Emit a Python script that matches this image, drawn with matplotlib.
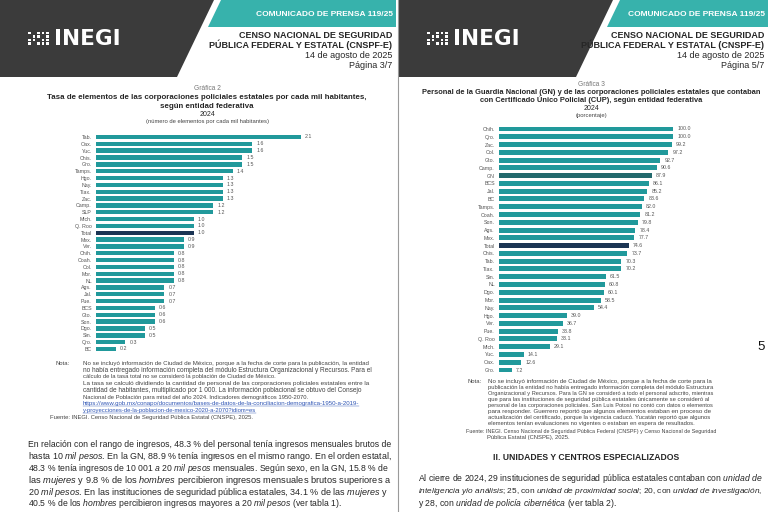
import matplotlib
matplotlib.use("Agg")
import matplotlib.pyplot as plt
from matplotlib.patches import Polygon, Rectangle

plt.rcParams['font.family'] = ['Liberation Sans', 'DejaVu Sans']
plt.rcParams['mathtext.fontset'] = 'custom'
plt.rcParams['mathtext.rm'] = 'Liberation Sans'
plt.rcParams['mathtext.it'] = 'Liberation Sans:italic'
plt.rcParams['mathtext.bf'] = 'Liberation Sans:bold'

# ---- data: Gráfica 2 (tasa por cada mil habitantes)
ent2 = ['Tab.', 'Oax.', 'Yuc.', 'Chis.', 'Gro.', 'Tamps.', 'Hgo.', 'Nay.', 'Tlax.', 'Zac.',
        'Camp.', 'SLP', 'Mich.', 'Q. Roo', 'Total', 'Mex.', 'Ver.', 'Chih.', 'Coah.', 'Col.',
        'Mor.', 'NL', 'Ags.', 'Jal.', 'Pue.', 'BCS', 'Gto.', 'Son.', 'Dgo.', 'Sin.', 'Qro.', 'BC']
tasa2 = [2.1, 1.6, 1.6, 1.5, 1.5, 1.4, 1.3, 1.3, 1.3, 1.3,
         1.2, 1.2, 1.0, 1.0, 1.0, 0.9, 0.9, 0.8, 0.8, 0.8,
         0.8, 0.8, 0.7, 0.7, 0.7, 0.6, 0.6, 0.6, 0.5, 0.5, 0.3, 0.2]

# ---- data: Gráfica 3 (porcentaje con CUP)
ent3 = ['Chih.', 'Qro.', 'Zac.', 'Col.', 'Gto.', 'Camp.', 'GN', 'BCS', 'Jal.', 'BC',
        'Tamps.', 'Coah.', 'Son.', 'Ags.', 'Mex.', 'Total', 'Chis.', 'Tab.', 'Tlax.', 'Sin.',
        'NL', 'Dgo.', 'Mor.', 'Nay.', 'Hgo.', 'Ver.', 'Pue.', 'Q. Roo', 'Mich.', 'Yuc.', 'Oax.', 'Gro.']
pct3 = [100.0, 100.0, 99.2, 97.2, 92.7, 90.6, 87.9, 86.1, 85.2, 83.6,
        82.0, 81.2, 79.8, 78.4, 77.7, 74.6, 73.7, 70.3, 70.2, 61.5,
        60.8, 60.1, 58.5, 54.4, 39.0, 36.7, 33.8, 33.1, 29.1, 14.1, 12.6, 7.2]

TEAL = '#21999b'
NAVY = '#1b3554'
DKTEAL = '#22696d'
HEAD = '#3b3b3b'
BAND = '#37b2ac'
TXT = '#262626'
NOTE = '#444444'

fig = plt.figure(figsize=(7.68, 5.12), dpi=100)
bg = fig.add_axes([0, 0, 1, 1])
bg.set_xlim(0, 768)
bg.set_ylim(512, 0)
bg.axis('off')
R = fig.canvas.get_renderer()


def it(s):
    # italic run inside a normal line, via mathtext
    return '$\\mathit{' + s.replace(' ', '\\ ') + '}$'


def line(x, y, s, size, width=None, ha='left', color=TXT, **kw):
    t = bg.text(x, y, s, fontsize=size, va='baseline', ha=ha, color=color, **kw)
    if width is not None:
        # stretch a little so the line fills the column, like justified text
        w = t.get_window_extent(R).width
        t.set_fontsize(size * min(max(width / w, 0.85), 1.12))
    return t


def logo(x0, yc):
    # small dotted mark next to the name
    for c in range(5):
        for r in range(4):
            if (c + r) % 3 != 1 or c == 4:
                bg.add_patch(Rectangle((x0 + c * 4.6, yc - 7 + r * 3.4), 2.6, 2.4,
                                       color='white', lw=0))
    bg.text(x0 + 26, yc, 'INEGI', color='white', fontsize=15.5, weight='bold',
            family='DejaVu Sans', ha='left', va='center')


def header(px, right, page):
    bg.add_patch(Polygon([(px, 0), (px + 214, 0), (px + 177, 77), (px, 77)], color=HEAD, lw=0))
    bg.add_patch(Polygon([(px + 221, 0), (right, 0), (right, 27), (px + 208, 27)], color=BAND, lw=0))
    bg.text(right - 3, 14, 'COMUNICADO DE PRENSA 119/25', color='white', fontsize=6,
            weight='bold', ha='right', va='center')
    bg.text(right - 4, 35, 'CENSO NACIONAL DE SEGURIDAD', color=TXT, fontsize=6.5,
            weight='bold', ha='right', va='center')
    bg.text(right - 4, 45, 'PÚBLICA FEDERAL Y ESTATAL (CNSPF-E)', color=TXT, fontsize=6.5,
            weight='bold', ha='right', va='center')
    bg.text(right - 4, 56, '14 de agosto de 2025', color=TXT, fontsize=6.5, ha='right', va='center')
    bg.text(right - 4, 66, page, color=TXT, fontsize=6.5, ha='right', va='center')
    logo(px + 28, 39)


def bars(ax, labels, vals, xmax, hi):
    cols = [NAVY if l == 'Total' else hi if l == 'GN' else TEAL for l in labels]
    b = ax.barh(range(len(vals)), vals, height=0.64, color=cols)
    ax.bar_label(b, fmt='%.1f', padding=3, fontsize=3.8, color='#555555')
    ax.set_yticks(range(len(vals)), labels)
    ax.set_ylim(len(vals) - 0.5, -0.5)
    ax.set_xlim(0, xmax)
    ax.tick_params(axis='y', length=0, pad=3, labelsize=3.8, labelcolor='#555555')
    ax.set_xticks([])
    for s in ax.spines.values():
        s.set_visible(False)
    ax.patch.set_alpha(0)


# ---- pages
header(0, 396, 'Página 3/7')
header(399, 768, 'Página 5/7')
bg.plot([398, 398], [0, 512], color='#9a9a9a', lw=0.8)
bg.text(757, 347, '5', fontsize=9.5, color='#111111', ha='left', va='center')

# ---- Gráfica 2
bg.text(207, 88, 'Gráfica 2', fontsize=4.8, color='#777777', ha='center', va='center')
t = line(207, 99, 'Tasa de elementos de las corporaciones policiales estatales por cada mil habitantes,',
         5.5, width=318, ha='center', weight='bold')
line(207, 108, 'según entidad federativa', t.get_fontsize(), ha='center', weight='bold')
bg.text(207, 114, '2024', fontsize=5, color=TXT, ha='center', va='center')
bg.text(207, 122, '(número de elementos por cada mil habitantes)', fontsize=4.2, color=NOTE,
        ha='center', va='center')

sp2 = (349 - 137) / 31
ax2 = fig.add_axes([96 / 768, 1 - (349 + sp2 / 2) / 512, 2.5 * 97.6 / 768, (212 + sp2) / 512])
bars(ax2, ent2, tasa2, 2.5, TEAL)

nota2 = [
    'No se incluyó información de Ciudad de México, porque a la fecha de corte para la publicación, la entidad',
    'no había entregado información completa del módulo Estructura Organizacional y Recursos. Para el',
    'cálculo de la tasa total no se consideró la población de Ciudad de México.',
    'La tasa se calculó dividiendo la cantidad de personal de las corporaciones policiales estatales entre la',
    'cantidad de habitantes, multiplicado por 1 000. La información poblacional se obtuvo del Consejo',
    'Nacional de Población para mitad del año 2024. Indicadores demográficos 1950-2070.',
]
link2 = ['https://www.gob.mx/conapo/documentos/bases-de-datos-de-la-conciliacion-demografica-1950-a-2019-',
         'y-proyecciones-de-la-poblacion-de-mexico-2020-a-2070?idiom=es']
just2 = [True, True, False, True, True, False]
ln = 6.7
bg.text(55, 365, 'Nota:', fontsize=4.2, color=NOTE, va='baseline')
for k, s in enumerate(nota2):
    line(83, 365 + k * ln, s, 4.2, width=292 if just2[k] else None, color=NOTE)
for k, s in enumerate(link2):
    y = 365 + (6 + k) * ln
    t = line(83, y, s, 4.2, width=280 if k == 0 else None, color='#2f55b5')
    w = t.get_window_extent(R).width
    bg.plot([83, 83 + w], [y + 1, y + 1], color='#2f55b5', lw=0.3)
line(50, 365 + 8 * ln, 'Fuente: INEGI. Censo Nacional de Seguridad Pública Estatal (CNSPE), 2025.', 4.2,
     color=NOTE)

par1 = [
    'En relación con el rango de ingresos, 48.3 % del personal tenía ingresos mensuales brutos de',
    'hasta ' + it('10 mil pesos') + '. En la GN, 88.9 % tenía ingresos en el mismo rango. En el orden estatal,',
    '48.3 % tenía ingresos de ' + it('10 001 a 20 mil pesos') + ' mensuales. Según sexo, en la GN, 15.8 % de',
    'las ' + it('mujeres') + ' y 9.8 % de los ' + it('hombres') + ' percibieron ingresos mensuales brutos superiores a',
    it('20 mil pesos') + '. En las instituciones de seguridad pública estatales, 34.1 % de las ' + it('mujeres') + ' y',
    '40.5 % de los ' + it('hombres') + ' percibieron ingresos mayores a ' + it('20 mil pesos') + ' (ver tabla 1).',
]
for k, s in enumerate(par1):
    line(28, 447 + k * 11.9, s, 6.2, width=363 if k < 5 else None)

# ---- Gráfica 3
bg.text(591, 84, 'Gráfica 3', fontsize=4.8, color='#777777', ha='center', va='center')
t = line(591, 94, 'Personal de la Guardia Nacional (GN) y de las corporaciones policiales estatales que contaban',
         5.5, width=340, ha='center', weight='bold')
line(591, 102, 'con Certificado Único Policial (CUP), según entidad federativa', t.get_fontsize(),
     ha='center', weight='bold')
bg.text(591, 108, '2024', fontsize=5, color=TXT, ha='center', va='center')
bg.text(591, 116, '(porcentaje)', fontsize=4.2, color=NOTE, ha='center', va='center')

sp3 = (370 - 129) / 31
ax3 = fig.add_axes([499 / 768, 1 - (370 + sp3 / 2) / 512, 120 * 1.74 / 768, (241 + sp3) / 512])
bars(ax3, ent3, pct3, 120, DKTEAL)

nota3 = [
    'No se incluyó información de Ciudad de México, porque a la fecha de corte para la',
    'publicación la entidad no había entregado información completa del módulo Estructura',
    'Organizacional y Recursos. Para la GN se consideró a todo el personal adscrito, mientras',
    'que para las instituciones de seguridad pública estatales únicamente se consideró al',
    'personal de las corporaciones policiales. San Luis Potosí no contó con datos o elementos',
    'para responder. Guerrero reportó que algunos elementos estaban en proceso de',
    'actualización del certificado, porque la vigencia caducó. Yucatán reportó que algunos',
    'elementos tenían evaluaciones no vigentes o estaban en espera de resultados.',
]
ln3 = 6.0
bg.text(468, 383, 'Nota:', fontsize=4.2, color=NOTE, va='baseline')
for k, s in enumerate(nota3):
    line(488, 383 + k * ln3, s, 4.2, width=225 if k < 7 else None, color=NOTE)
line(466, 433, 'Fuente: INEGI. Censo Nacional de Seguridad Pública Federal (CNSPF) y Censo Nacional de Seguridad',
     4.2, width=247, color=NOTE)
line(487, 439, 'Pública Estatal (CNSPE), 2025.', 4.2, color=NOTE)

bg.text(586, 458, 'II. UNIDADES Y CENTROS ESPECIALIZADOS', fontsize=6.2, weight='bold', color=TXT,
        ha='center', va='center')
par2 = [
    'Al cierre de 2024, 29 instituciones de seguridad pública estatales contaban con ' + it('unidad de'),
    it('inteligencia y/o análisis') + '; 25, con ' + it('unidad de proximidad social') + '; 20, con '
    + it('unidad de investigación') + ',',
    'y 28, con ' + it('unidad de policía cibernética') + ' (ver tabla 2).',
]
for k, s in enumerate(par2):
    line(418, 481 + k * 12.4, s, 6.2, width=347 if k < 2 else None)

fig.savefig('out.png', dpi=100)
